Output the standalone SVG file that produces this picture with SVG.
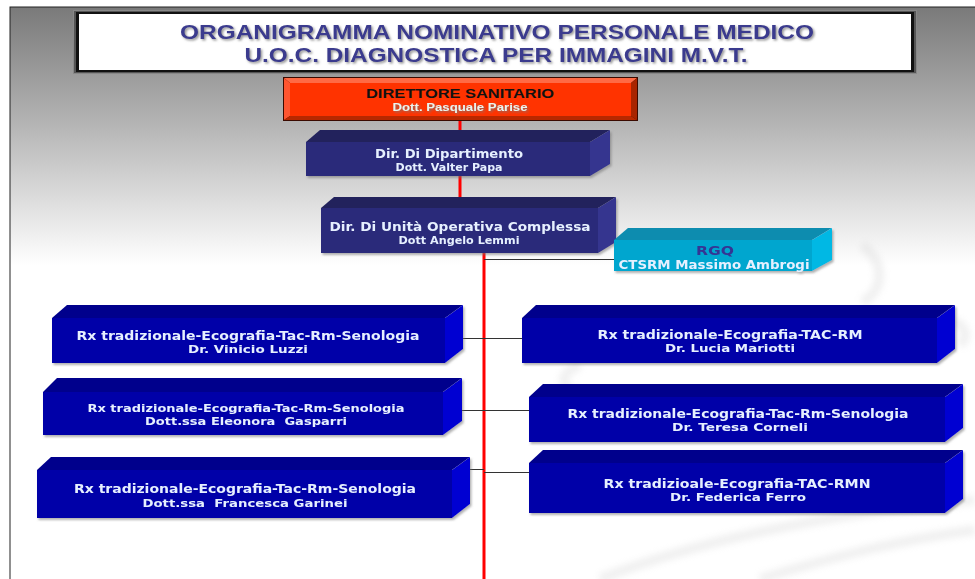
<svg xmlns="http://www.w3.org/2000/svg" width="975" height="579" viewBox="0 0 975 579">
<defs>
<linearGradient id="bg" gradientUnits="userSpaceOnUse" x1="0" y1="7" x2="0" y2="265">
<stop offset="0" stop-color="#7a7a7a"/>
<stop offset="0.45" stop-color="#b4b4b4"/>
<stop offset="1" stop-color="#ffffff"/>
</linearGradient>
<filter id="sh" x="-5%" y="-20%" width="115%" height="150%">
<feDropShadow dx="1.5" dy="2" stdDeviation="1.2" flood-color="#707070" flood-opacity="0.55"/>
</filter>
<filter id="tsh" x="-5%" y="-30%" width="110%" height="160%">
<feDropShadow dx="1.5" dy="1.5" stdDeviation="1" flood-color="#777777" flood-opacity="0.8"/>
</filter>
<filter id="blur"><feGaussianBlur stdDeviation="3"/></filter>
</defs>
<style>
.bt{fill:#00008c}.bf{fill:#0606a8}.bs{fill:#0000d2}
.dt{fill:#20205c}.df{fill:#2c2c7a}.ds{fill:#35358f}
.ct{fill:#0a8caf}.cf{fill:#00a6cf}.cs{fill:#00b8e4}
.n{font-family:"DejaVu Sans","Liberation Sans",sans-serif;font-weight:bold;text-anchor:middle;fill:#e6f0ff;white-space:pre}
.n1{font-size:12px}.n2{font-size:11px}
.ttl{font-family:"Liberation Sans",Arial,sans-serif;font-weight:bold;font-size:20px;fill:#3a3a8e;text-anchor:middle}
.red{stroke:#ff0000;stroke-width:3;fill:none}
.con{stroke:#333333;stroke-width:1;fill:none}
</style>
<!-- background -->
<rect x="0" y="0" width="975" height="579" fill="#ffffff"/>
<rect x="10" y="7" width="970" height="580" fill="url(#bg)" stroke="#222222" stroke-width="1"/>
<g opacity="0.3" filter="url(#blur)" fill="none" stroke="#d0d0d0" stroke-width="10">
<path d="M600 579 C700 540 820 515 975 500"/>
<path d="M760 579 C840 555 900 540 975 530"/>
<path d="M580 365 C555 375 560 392 590 396"/>
<path d="M862 245 C885 262 885 290 862 302"/>
<path d="M950 320 C965 325 970 335 960 345"/>
</g>
<!-- title -->
<g id="title">
<rect x="73.5" y="10.5" width="843" height="63" fill="#555555" stroke="#888888" stroke-width="1"/>
<rect x="76" y="12" width="838" height="60" fill="#111111"/>
<rect x="79" y="14" width="832" height="56" fill="#ffffff"/>
<g filter="url(#tsh)">
<text class="ttl" x="497" y="39" textLength="634" lengthAdjust="spacingAndGlyphs">ORGANIGRAMMA NOMINATIVO PERSONALE MEDICO</text>
<text class="ttl" x="496" y="62" textLength="503" lengthAdjust="spacingAndGlyphs">U.O.C. DIAGNOSTICA PER IMMAGINI M.V.T.</text>
</g>
</g>
<!-- connectors -->
<g id="connectors">
<line class="red" x1="460" y1="120" x2="460" y2="132"/>
<line class="red" x1="460" y1="175" x2="460" y2="198"/>
<line class="red" x1="484" y1="253" x2="484" y2="579"/>
<line class="con" x1="484" y1="259.5" x2="615" y2="259.5"/>
<line class="con" x1="462" y1="338.5" x2="484" y2="338.5"/>
<line class="con" x1="462" y1="410.5" x2="484" y2="410.5"/>
<line class="con" x1="468" y1="469.5" x2="484" y2="469.5"/>
<line class="con" x1="484" y1="338.5" x2="522" y2="338.5"/>
<line class="con" x1="484" y1="410.5" x2="529" y2="410.5"/>
<line class="con" x1="484" y1="472.5" x2="529" y2="472.5"/>
</g>
<!-- director -->
<g id="direttore">
<rect x="283" y="77" width="355" height="44" fill="#3a0a00"/>
<polygon points="284,78 637,78 631,83 290,83" fill="#ff6a45"/>
<polygon points="284,78 290,83 290,116 284,120" fill="#ff5530"/>
<polygon points="637,78 637,120 631,116 631,83" fill="#a82400"/>
<polygon points="284,120 290,116 631,116 637,120" fill="#b82800"/>
<rect x="290" y="83" width="341" height="33" fill="#ff3300"/>
<text x="460" y="98" font-family="'Liberation Sans',Arial,sans-serif" font-weight="bold" font-size="13" fill="#111111" text-anchor="middle" textLength="188" lengthAdjust="spacingAndGlyphs">DIRETTORE SANITARIO</text>
<text x="460" y="111" font-family="'Liberation Sans',Arial,sans-serif" font-weight="bold" font-size="11" fill="#e8f4f0" text-anchor="middle" textLength="135" lengthAdjust="spacingAndGlyphs" filter="url(#tsh)">Dott. Pasquale Parise</text>
</g>
<!-- Dir dipartimento -->
<g id="dir-dipartimento" filter="url(#sh)">
<polygon class="dt" points="306,142 320,130 610,130 590,142"/>
<polygon class="ds" points="590,142 610,130 610,164 590,176"/>
<rect class="df" x="306" y="142" width="284" height="34"/>
<text class="n n1" x="449" y="158" textLength="148" lengthAdjust="spacingAndGlyphs">Dir. Di Dipartimento</text>
<text class="n n2" x="449" y="171" textLength="107" lengthAdjust="spacingAndGlyphs">Dott. Valter Papa</text>
</g>
<!-- Dir UOC -->
<g id="dir-uoc" filter="url(#sh)">
<polygon class="dt" points="321,208 334,197 616,197 598,208"/>
<polygon class="ds" points="598,208 616,197 616,242 598,253"/>
<rect class="df" x="321" y="208" width="277" height="45"/>
<text class="n n1" x="460" y="231" textLength="261" lengthAdjust="spacingAndGlyphs">Dir. Di Unità Operativa Complessa</text>
<text class="n n2" x="459" y="244" textLength="121" lengthAdjust="spacingAndGlyphs">Dott Angelo Lemmi</text>
</g>
<!-- RGQ -->
<g id="rgq" filter="url(#sh)">
<polygon class="ct" points="614,240 628,228 832,228 812,240"/>
<polygon class="cs" points="812,240 832,228 832,260 812,271"/>
<rect class="cf" x="614" y="240" width="198" height="31"/>
<text x="715" y="255" font-family="'DejaVu Sans',sans-serif" font-weight="bold" font-size="12" fill="#343494" text-anchor="middle" textLength="38" lengthAdjust="spacingAndGlyphs">RGQ</text>
<text class="n n1" x="714" y="269" fill="#ffffff" textLength="191" lengthAdjust="spacingAndGlyphs">CTSRM Massimo Ambrogi</text>
</g>
<!-- left boxes -->
<g id="luzzi" filter="url(#sh)">
<polygon class="bt" points="52,318 67,305 463,305 445,318"/>
<polygon class="bs" points="445,318 463,305 463,349 445,363"/>
<rect class="bf" x="52" y="318" width="393" height="45"/>
<text class="n n1" x="248" y="340" textLength="343" lengthAdjust="spacingAndGlyphs">Rx tradizionale-Ecografia-Tac-Rm-Senologia</text>
<text class="n n2" x="248" y="353" textLength="120" lengthAdjust="spacingAndGlyphs">Dr. Vinicio Luzzi</text>
</g>
<g id="gasparri" filter="url(#sh)">
<polygon class="bt" points="43,392 57,378 462,378 443,392"/>
<polygon class="bs" points="443,392 462,378 462,421 443,435"/>
<rect class="bf" x="43" y="392" width="400" height="43"/>
<text class="n n2" x="246" y="412" textLength="317" lengthAdjust="spacingAndGlyphs">Rx tradizionale-Ecografia-Tac-Rm-Senologia</text>
<text class="n n2" x="246" y="425" textLength="202" lengthAdjust="spacingAndGlyphs">Dott.ssa Eleonora  Gasparri</text>
</g>
<g id="garinei" filter="url(#sh)">
<polygon class="bt" points="37,470 51,457 470,457 452,470"/>
<polygon class="bs" points="452,470 470,457 470,504 452,518"/>
<rect class="bf" x="37" y="470" width="415" height="48"/>
<text class="n n1" x="245" y="493" textLength="342" lengthAdjust="spacingAndGlyphs">Rx tradizionale-Ecografia-Tac-Rm-Senologia</text>
<text class="n n2" x="245" y="507" textLength="205" lengthAdjust="spacingAndGlyphs">Dott.ssa  Francesca Garinei</text>
</g>
<!-- right boxes -->
<g id="mariotti" filter="url(#sh)">
<polygon class="bt" points="522,318 536,305 955,305 937,318"/>
<polygon class="bs" points="937,318 955,305 955,349 937,363"/>
<rect class="bf" x="522" y="318" width="415" height="45"/>
<text class="n n1" x="730" y="339" textLength="265" lengthAdjust="spacingAndGlyphs">Rx tradizionale-Ecografia-TAC-RM</text>
<text class="n n2" x="730" y="352" textLength="130" lengthAdjust="spacingAndGlyphs">Dr. Lucia Mariotti</text>
</g>
<g id="corneli" filter="url(#sh)">
<polygon class="bt" points="529,397 543,384 963,384 945,397"/>
<polygon class="bs" points="945,397 963,384 963,428 945,442"/>
<rect class="bf" x="529" y="397" width="416" height="45"/>
<text class="n n1" x="738" y="418" textLength="341" lengthAdjust="spacingAndGlyphs">Rx tradizionale-Ecografia-Tac-Rm-Senologia</text>
<text class="n n2" x="740" y="431" textLength="136" lengthAdjust="spacingAndGlyphs">Dr. Teresa Corneli</text>
</g>
<g id="ferro" filter="url(#sh)">
<polygon class="bt" points="529,463 543,450 963,450 945,463"/>
<polygon class="bs" points="945,463 963,450 963,499 945,513"/>
<rect class="bf" x="529" y="463" width="416" height="50"/>
<text class="n n1" x="737" y="488" textLength="267" lengthAdjust="spacingAndGlyphs">Rx tradizioale-Ecografia-TAC-RMN</text>
<text class="n n2" x="738" y="501" textLength="136" lengthAdjust="spacingAndGlyphs">Dr. Federica Ferro</text>
</g>
</svg>
